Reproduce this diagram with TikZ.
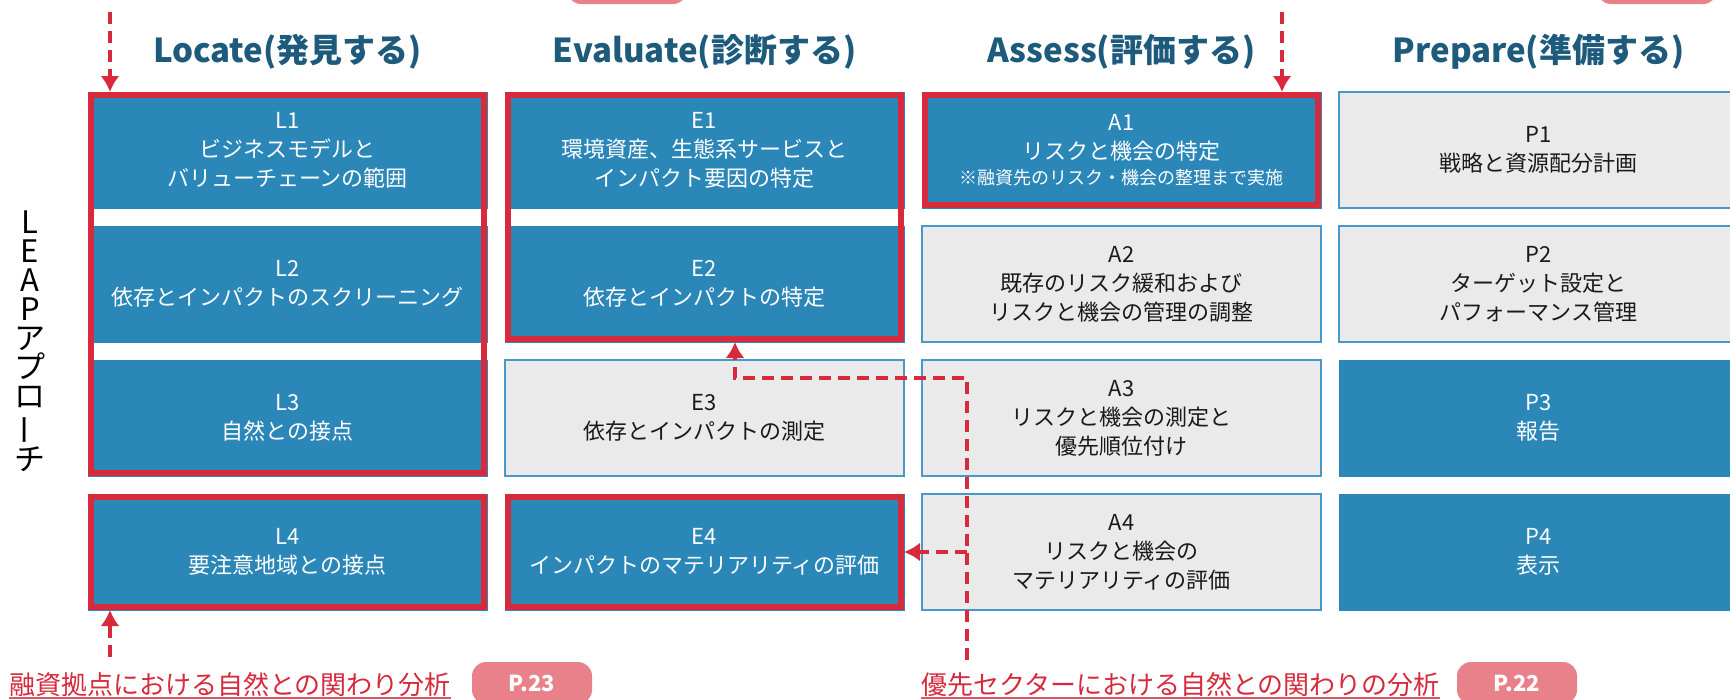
\documentclass[tikz,border=0pt]{standalone}
\usepackage{fontspec}
\setmainfont{Noto Sans CJK JP}
\usepackage{graphicx}
\usepackage{tikz}
\usetikzlibrary{positioning,fit,arrows.meta}
\definecolor{leapblue}{HTML}{2A87B8}
\definecolor{leapred}{HTML}{D72A3C}
\definecolor{leapgray}{HTML}{EAEAEA}
\definecolor{leapline}{HTML}{4A98CB}
\definecolor{leapink}{HTML}{1A1A1A}
\definecolor{leaphead}{HTML}{1D5A7C}
\definecolor{leappink}{HTML}{E9818B}

\begin{document}
\begin{tikzpicture}[
  x=1pt, y=-1pt,
  node distance=18pt and 18pt,
  cell/.style={rectangle,minimum width=399pt,minimum height=116pt,inner sep=0pt,outer sep=0pt,align=center,font=\fontsize{22}{29}\selectfont},
  bluecell/.style={cell,fill=leapblue,draw=leapblue,text=white},
  graycell/.style={cell,fill=leapgray,draw=leapline,line width=1.5pt,text=leapink},
  redframe/.style={draw=leapred,line width=6pt,inner sep=-3pt},
  phase/.style={font=\fontsize{33}{36}\selectfont\bfseries,text=leaphead},
  flow/.style={draw=leapred,line width=4.5pt,dash pattern=on 12pt off 7pt,-{Latex[length=16pt,width=19pt]}},
  source/.style={font=\fontsize{26}{30}\selectfont,text=leapred,inner sep=0pt,anchor=base west},
  pagetag/.style={fill=leappink,rounded corners=14pt,minimum width=120pt,minimum height=42pt,inner sep=0pt,text=white,font=\fontsize{22}{26}\selectfont\bfseries}
]
\useasboundingbox[fill=white] (0,0) rectangle (1730,699);

% LEAP cells
\node[bluecell] (L1) at (287.5,150) {L1\\ビジネスモデルと\\バリューチェーンの範囲};
\node[bluecell, below=of L1] (L2) {L2\\依存とインパクトのスクリーニング};
\node[bluecell, below=of L2] (L3) {L3\\自然との接点};
\node[bluecell, below=of L3] (L4) {L4\\要注意地域との接点};
\node[bluecell, right=of L1] (E1) {E1\\環境資産、生態系サービスと\\インパクト要因の特定};
\node[bluecell, right=of L2] (E2) {E2\\依存とインパクトの特定};
\node[graycell, right=of L3] (E3) {E3\\依存とインパクトの測定};
\node[bluecell, right=of L4] (E4) {E4\\インパクトのマテリアリティの評価};
\node[bluecell, right=of E1] (A1) {A1\\リスクと機会の特定\\[-4pt]{\fontsize{18}{22}\selectfont ※融資先のリスク・機会の整理まで実施}};
\node[graycell, right=of E2] (A2) {A2\\既存のリスク緩和および\\リスクと機会の管理の調整};
\node[graycell, right=of E3] (A3) {A3\\リスクと機会の測定と\\優先順位付け};
\node[graycell, right=of E4] (A4) {A4\\リスクと機会の\\マテリアリティの評価};
\node[graycell, right=of A1] (P1) {P1\\戦略と資源配分計画};
\node[graycell, right=of A2] (P2) {P2\\ターゲット設定と\\パフォーマンス管理};
\node[bluecell, right=of A3] (P3) {P3\\報告};
\node[bluecell, right=of A4] (P4) {P4\\表示};

% red frames
\node[redframe, fit=(L1)(L3)] (Lgrp) {};
\node[redframe, fit=(L4)] (Lfoc) {};
\node[redframe, fit=(E1)(E2)] (Egrp) {};
\node[redframe, fit=(E4)] (Efoc) {};
\node[redframe, fit=(A1)] (Afoc) {};

% headings
\node[phase] (hL) at (L1 |- 0,52) {Locate(発見する)};
\node[phase] (hE) at (E1 |- 0,52) {Evaluate(診断する)};
\node[phase] (hA) at (A1 |- 0,52) {Assess(評価する)};
\node[phase] (hP) at (P1 |- 0,52) {Prepare(準備する)};
\node[font=\fontsize{31}{29}\selectfont, align=center] (leap) at (30,341)
  {L\\E\\A\\P\\ア\\プ\\ロ\\\rotatebox[origin=c]{90}{ー}\\チ};

% page tags
\node[pagetag] (tabE) at (627,-17) {};
\node[pagetag] (tabP) at (1657,-17) {};
\node[source] (srcL) at (9,694) {融資拠点における自然との関わり分析};
\node[pagetag] (tag23) at (532,683) {P.23};
\node[source] (srcS) at (921,694) {優先セクターにおける自然との関わりの分析};
\node[pagetag] (tag22) at (1517,683) {P.22};
\draw[leapred!80, line width=1.5pt] ([yshift=-4pt]srcL.base west) -- ([yshift=-4pt]srcL.base east);
\draw[leapred!80, line width=1.5pt] ([yshift=-4pt]srcS.base west) -- ([yshift=-4pt]srcS.base east);

% dashed flows
\coordinate (fromL) at (110,12);
\coordinate (fromA) at (1282,12);
\coordinate (fromB) at (110,657);
\coordinate (fromS) at (967,660);
\coordinate (turn) at (735,378);
\coordinate (fork) at (fromS |- E4.east);
\draw[flow] (fromL) -- (fromL |- L1.north);
\draw[flow] (fromA) -- (fromA |- A1.north);
\draw[flow] (fromB) -- (fromB |- L4.south);
\draw[flow] (fromS) |- (turn) -- (turn |- E2.south);
\draw[flow] (fork) -- (E4.east);
\end{tikzpicture}
\end{document}
